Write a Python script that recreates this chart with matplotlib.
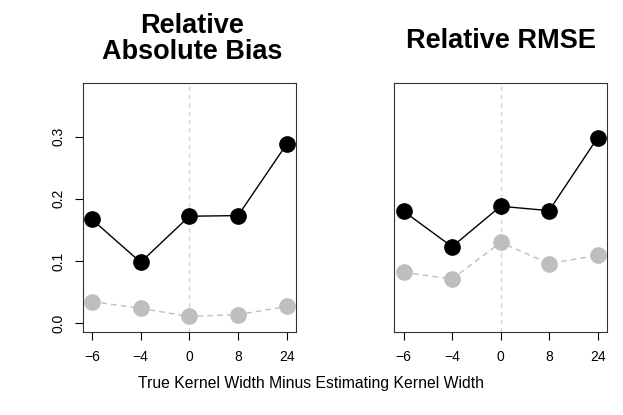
import matplotlib
matplotlib.use("Agg")
import matplotlib.pyplot as plt

plt.rcParams["font.family"] = ["Liberation Sans", "DejaVu Sans"]

# categorical x axis: true kernel width minus estimating kernel width
widths = ["-6", "-4", "0", "8", "24"]
positions = [1, 2, 3, 4, 5]

bias_black = [0.167, 0.098, 0.172, 0.173, 0.288]
bias_gray = [0.035, 0.024, 0.011, 0.014, 0.027]

rmse_black = [0.180, 0.123, 0.188, 0.181, 0.298]
rmse_gray = [0.082, 0.071, 0.130, 0.096, 0.109]

titles = ["Relative\nAbsolute Bias", "Relative RMSE"]
yticks = [0.0, 0.1, 0.2, 0.3]


def panel(ax, black, gray, show_y):
    ax.axvline(3, color="#d3d3d3", lw=1, ls=(0, (3, 3)), zorder=1)
    ax.plot(positions, gray, color="#bebebe", lw=1, ls=(0, (4, 3)),
            marker="o", ms=11, mec="#bebebe", mfc="#bebebe", zorder=2)
    ax.plot(positions, black, color="black", lw=1, marker="o", ms=11,
            mec="black", mfc="black", zorder=3)
    ax.set_xlim(0.81, 5.19)
    ax.set_ylim(-0.0135, 0.386)
    ax.set_xticks(positions)
    ax.set_xticklabels(["\u2212" + w[1:] if w.startswith("-") else w for w in widths])
    ax.tick_params(axis="x", direction="out", length=5.5, width=0.8,
                   labelsize=10, pad=8)
    if show_y:
        ax.set_yticks(yticks)
        ax.set_yticklabels(["%.1f" % v for v in yticks], rotation=90, va="center")
        ax.tick_params(axis="y", direction="out", length=5.5, width=0.8,
                       labelsize=10, pad=7)
    else:
        ax.set_yticks([])
    for s in ax.spines.values():
        s.set_linewidth(0.8)
        s.set_color("#333333")


fig = plt.figure(figsize=(6.23, 4.15), dpi=100)
ax1 = fig.add_axes([0.1327, 0.2007, 0.3424, 0.5993])
ax2 = fig.add_axes([0.633, 0.2007, 0.341, 0.5993])
panel(ax1, bias_black, bias_gray, True)
panel(ax2, rmse_black, rmse_gray, False)

fig.text(0.3085, 1 - 39 / 415, titles[0], ha="center", va="center",
         fontsize=19.5, fontweight="bold", linespacing=0.97)
fig.text(0.8035, 1 - 41 / 415, titles[1], ha="center", va="center",
         fontsize=19.5, fontweight="bold")

fig.text(0.5, 0.077, "True Kernel Width Minus Estimating Kernel Width",
         ha="center", va="center", fontsize=11.3)

fig.savefig("out.png", dpi=100)
